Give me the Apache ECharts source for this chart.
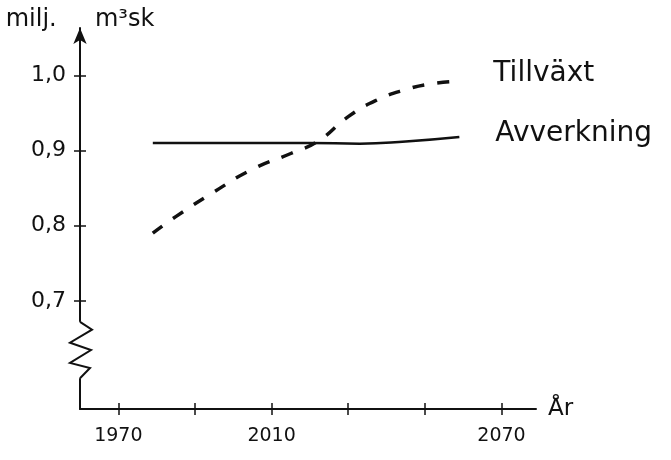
<!DOCTYPE html>
<html>
<head>
<meta charset="utf-8">
<script src="https://cdn.jsdelivr.net/npm/echarts@6/dist/echarts.min.js"></script>
<style>
  html, body { margin: 0; padding: 0; background: #fff; }
  #chart { width: 671px; height: 460px; }
</style>
</head>
<body>
<div id="chart"></div>
<script>
// Datos (año, millones m³sk)
const tillvaxt = [
  [1979, 0.790], [1985, 0.812], [1995, 0.845], [2005, 0.875], [2015, 0.896],
  [2022, 0.912], [2030, 0.945], [2037, 0.966], [2045, 0.981], [2052, 0.989], [2059, 0.992]
];
const avverkning = [
  [1979, 0.910], [2000, 0.910], [2020, 0.910], [2033, 0.909], [2045, 0.912], [2059, 0.918]
];
const xTicks = [1970, 1990, 2010, 2030, 2050, 2070];
const xLabels = [1970, 2010, 2070];
const yTicks = [0.7, 0.8, 0.9, 1.0];

const ink = '#111';
const font = 'DejaVu Sans';

document.addEventListener('DOMContentLoaded', () => {
  const chart = echarts.init(document.getElementById('chart'));

  const commonX = {
    type: 'value', min: 1960, max: 2079, position: 'bottom',
    splitLine: { show: false }
  };
  const commonY = {
    type: 'value', min: 0.556, max: 1.063, position: 'left',
    splitLine: { show: false }
  };

  const option = {
    backgroundColor: '#fff',
    animation: false,
    grid: { left: 80, right: 135, top: 28, bottom: 51 },
    xAxis: [
      Object.assign({}, commonX, {
        name: 'År',
        nameLocation: 'end',
        nameGap: 12,
        nameTextStyle: { color: ink, fontSize: 23, fontFamily: font, verticalAlign: 'middle' },
        axisLine: { lineStyle: { color: ink, width: 2 } },
        axisTick: { customValues: xTicks, length: 6, lineStyle: { color: ink, width: 1.5 } },
        axisLabel: {
          customValues: xLabels, margin: 18,
          color: ink, fontSize: 19, fontFamily: font,
          formatter: v => String(v)
        }
      }),
      Object.assign({}, commonX, {
        axisLine: { show: false },
        axisTick: { customValues: xTicks, inside: true, length: 6, lineStyle: { color: ink, width: 1.5 } },
        axisLabel: { show: false }
      })
    ],
    yAxis: [
      Object.assign({}, commonY, {
        name: 'milj.     m³sk',
        nameLocation: 'end',
        nameGap: -4,
        nameTextStyle: { color: ink, fontSize: 24, fontFamily: font },
        axisLine: {
          lineStyle: { color: ink, width: 2 },
          symbol: ['none', 'arrow'], symbolSize: [10, 16]
        },
        axisTick: { customValues: yTicks, length: 6, lineStyle: { color: ink, width: 1.5 } },
        axisLabel: {
          customValues: yTicks, margin: 14,
          color: ink, fontSize: 22, fontFamily: font,
          formatter: v => v.toFixed(1).replace('.', ',')
        }
      }),
      Object.assign({}, commonY, {
        axisLine: { show: false },
        axisTick: { customValues: yTicks, inside: true, length: 6, lineStyle: { color: ink, width: 1.5 } },
        axisLabel: { show: false }
      })
    ],
    series: [
      {
        name: 'Tillväxt',
        type: 'line',
        smooth: true,
        showSymbol: false,
        data: tillvaxt,
        lineStyle: { color: ink, width: 3.5, type: [12, 13] },
        endLabel: {
          show: true, formatter: '{a}', distance: 34, offset: [0, -8],
          color: ink, fontSize: 28, fontFamily: font
        }
      },
      {
        name: 'Avverkning',
        type: 'line',
        smooth: true,
        showSymbol: false,
        data: avverkning,
        lineStyle: { color: ink, width: 2.5 },
        endLabel: {
          show: true, formatter: '{a}', distance: 36, offset: [0, -3],
          color: ink, fontSize: 28, fontFamily: font
        }
      }
    ]
  };

  chart.setOption(option);

  // Brytsymbol (sicksack) på y-axeln mellan 0,7 och axelns början
  const p = v => chart.convertToPixel({ yAxisIndex: 0 }, v);
  const x0 = chart.convertToPixel({ xAxisIndex: 0 }, 1960);
  const top = p(0.672), bot = p(0.597);
  const h = bot - top;
  chart.setOption({
    graphic: [
      { type: 'rect', shape: { x: x0 - 4, y: top, width: 8, height: h }, style: { fill: '#fff' }, z: 100 },
      {
        type: 'polyline', z: 101,
        shape: {
          points: [
            [x0, top], [x0 + 12, top + h * 0.14], [x0 - 10, top + h * 0.37],
            [x0 + 11, top + h * 0.5], [x0 - 10, top + h * 0.73],
            [x0 + 10, top + h * 0.82], [x0, bot]
          ]
        },
        style: { stroke: ink, lineWidth: 2, fill: null }
      }
    ]
  });

  window.addEventListener('resize', () => chart.resize());
});
</script>
</body>
</html>
